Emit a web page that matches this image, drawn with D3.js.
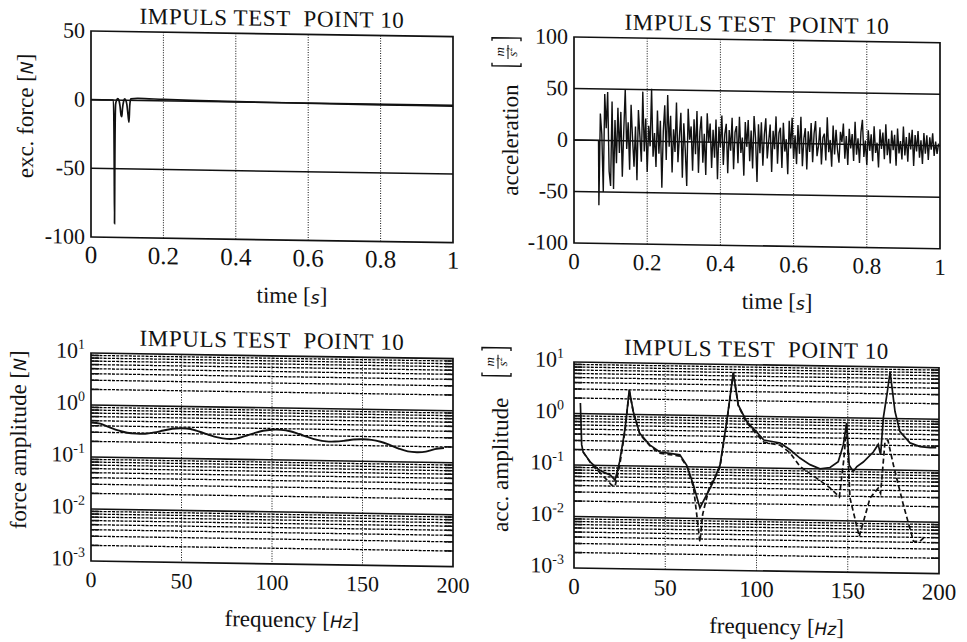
<!DOCTYPE html>
<html>
<head>
<meta charset="utf-8">
<script src="https://cdn.jsdelivr.net/npm/d3@7"></script>
<style>
body { margin: 0; background: #fff; }
</style>
</head>
<body>
<svg id="chart" width="967" height="642"></svg>
<script>
// ---- data ----
var titleText = "IMPULS TEST\u00a0\u00a0POINT 10";

// excitation force (time domain)
var forceTime = [0, 0.062, 0.064, 0.065, 0.066, 0.068, 0.071, 0.074, 0.077, 0.080, 0.083, 0.085,
                 0.087, 0.090, 0.093, 0.096, 0.099, 0.102, 0.105, 0.107, 0.110, 0.130, 0.200, 0.300, 0.500, 0.800, 1.0];
var forceVal  = [0, 0, -40, -90, -40, -3, 0, 1, 0, -4, -11, -12,
                 -6, -1, 1, 0, -3, -10, -16, -4, 1, 1.5, 1, 0.5, 0, -0.5, -0.5];

// acceleration (time domain), sampled every 4 ms starting at 0.068 s
var accStart = 0.068, accStep = 0.004;
var accVal = [
  -63, 26, 6, -50, 45, 12, 47, -30, -44, 38,
  -47, 20, -22, 32, -12, 28, -35, 10, 50, -8,
  18, -28, 35, 2, -25, 14, -38, 30, 5, -20,
  48, -10, 22, -30, 15, -5, 51, -15, 8, -25,
  30, -12, 20, -45, 10, 35, -18, 45, -5, 25,
  -30, 12, -10, 38, -20, 5, 28, -35, 18, -8,
  -43, 32, 2, 15, -28, 22, -12, 30, -30, 10,
  25, -20, 8, -32, 28, 0, 18, -25, 12, -15,
  22, -36, 15, -5, 26, -22, 8, 18, -30, 12,
  -8, 24, -26, 10, 16, -20, 25, -10, 5, -32,
  20, -4, 22, -18, 12, -25, 26, 5, -38, 18,
  -10, 20, -22, 8, 24, -15, 2, 18, -28, 12,
  -6, 26, -20, 10, 15, -24, 20, -8, 4, -30,
  22, -5, 25, -15, 8, -20, 18, -10, 26, -22,
  5, 15, -25, 12, -8, 20, -18, 10, 22, -12,
  -2, 16, -20, 6, 10, -16, 26, -8, 4, -22,
  18, -10, 14, -6, -18, 12, 2, 20, -14, 8,
  -20, 15, -4, 10, -16, 22, -10, 6, -18, 12,
  24, -12, 4, -20, 14, -6, 10, -16, 18, -8,
  2, -22, 15, -4, 12, -14, 20, -10, 6, -18,
  14, -5, 10, -20, 16, -8, 4, -14, 18, -10,
  8, -16, 12, -4, 15, -20, 10, -6, 14, -12,
  5, -18, 12, -8, 10, -14, 8, -4, 12, -10,
  4, -8, 2
];

// force amplitude spectrum
var forceFreq = [0, 5, 10, 15, 20, 25, 30, 35, 40, 45, 50, 55, 60, 65, 70, 75, 80, 85, 90, 95,
                 100, 105, 110, 115, 120, 125, 130, 135, 140, 145, 150, 155, 160, 165, 170, 175, 180, 185, 190, 195];
var forceAmp  = [0.46, 0.44, 0.38, 0.33, 0.30, 0.29, 0.29, 0.31, 0.34, 0.37, 0.38, 0.37, 0.33, 0.29, 0.26, 0.245, 0.25, 0.28, 0.32, 0.36,
                 0.38, 0.38, 0.36, 0.32, 0.28, 0.25, 0.235, 0.235, 0.245, 0.26, 0.265, 0.26, 0.24, 0.21, 0.18, 0.16, 0.155, 0.16, 0.18, 0.19];

// acceleration amplitude spectrum, solid curve
var accFreq = [3.5, 4.2, 5, 9, 14, 20, 22.5, 25, 28, 30.3, 32.5, 36, 41.5, 47, 52.5, 58, 61.7, 65.4, 69, 72.7,
               76.3, 80, 83.7, 87.3, 90, 94.6, 100, 104, 113, 118.4, 123.8, 129.3, 134.8, 140.3, 144.8, 147.6, 149.4, 150.8, 153, 155,
               158.5, 164, 166.7, 168, 169.5, 171.7, 173.2, 175.9, 178.6, 184.1, 189.6, 195, 198.5];
var accAmp  = [1.6, 0.25, 0.18, 0.115, 0.08, 0.065, 0.052, 0.12, 0.53, 3.0, 1.13, 0.43, 0.26, 0.19, 0.18, 0.17, 0.108, 0.045, 0.016, 0.029,
               0.052, 0.11, 0.78, 7.0, 1.65, 0.79, 0.5, 0.35, 0.31, 0.23, 0.16, 0.12, 0.10, 0.107, 0.14, 0.30, 0.8, 0.12, 0.091, 0.114,
               0.14, 0.22, 0.31, 0.195, 1.02, 3.3, 8.0, 1.37, 0.56, 0.34, 0.29, 0.28, 0.28];

// acceleration amplitude spectrum, dashed curve
var accFreqD = [5, 10, 15, 20.6, 22.5, 25, 28, 30.3, 32.5, 36, 41.5, 47, 52.5, 58, 62, 65.5, 69, 70.5, 72, 74.5,
                77, 80, 83.7, 87.3, 90, 94.6, 100, 104, 113, 118.4, 123.8, 132.9, 140.3, 145.4, 147.8, 149.4, 151.2, 156.3, 162.2, 166.7,
                168, 170.4, 172, 175, 180.5, 186, 189.6, 192.3];
var accAmpD  = [0.18, 0.1, 0.068, 0.042, 0.04, 0.1, 0.5, 2.9, 1.1, 0.42, 0.25, 0.18, 0.17, 0.16, 0.1, 0.04, 0.0035, 0.012, 0.02, 0.045,
                0.06, 0.1, 0.75, 6.8, 1.6, 0.75, 0.45, 0.32, 0.28, 0.2, 0.11, 0.066, 0.043, 0.029, 0.15, 0.7, 0.028, 0.005, 0.028, 0.044,
                0.035, 0.35, 0.38, 0.126, 0.021, 0.0042, 0.0042, 0.0052];

var timeTicks = [0, 0.2, 0.4, 0.6, 0.8, 1];
var forceTicks = [50, 0, -50, -100];
var accTicks = [100, 50, 0, -50, -100];
var freqTicks = [0, 50, 100, 150, 200];
var decadeTicks = [10, 1, 0.1, 0.01, 0.001];
var decadeExp = ["1", "0", "-1", "-2", "-3"];

// ---- layout ----
var serif = "'Liberation Serif', 'Times New Roman', serif";
var svg = d3.select("#chart").attr("font-family", serif);
var ink = "#111";
var tilt = 0.9; // the scan is slightly tilted

function txt(sel) {
  return sel.attr("font-family", serif).attr("fill", ink);
}

function makePanel(x0, y0, w, h) {
  var g = svg.append("g")
      .attr("transform", "translate(" + x0 + "," + y0 + ") skewY(" + tilt + ")");
  txt(g.append("text"))
      .attr("x", w / 2).attr("y", -8)
      .attr("text-anchor", "middle")
      .attr("font-size", 23)
      .attr("letter-spacing", 0.6)
      .text(titleText);
  return g;
}

function frame(g, w, h) {
  g.append("rect").attr("width", w).attr("height", h)
      .attr("fill", "none").attr("stroke", ink).attr("stroke-width", 1.7);
}

function xTickLabels(g, x, ticks, h, size) {
  txt(g.selectAll(null).data(ticks).enter().append("text"))
      .attr("x", function(d) { return x(d); })
      .attr("y", h + 26)
      .attr("text-anchor", "middle")
      .attr("font-size", size)
      .text(function(d) { return d; });
}

function xLabel(g, w, h, main, unit) {
  var t = txt(g.append("text")).attr("x", w * 0.555).attr("y", h + 63)
      .attr("text-anchor", "middle").attr("font-size", 23);
  t.append("tspan").text(main + " [");
  t.append("tspan").attr("font-style", "italic").attr("font-size", 17)
      .attr("font-family", "'DejaVu Sans', sans-serif").text(unit);
  t.append("tspan").text("]");
}

function yLabelSimple(g, lx, ly, main, unit) {
  var t = txt(g.append("text"))
      .attr("transform", "translate(" + lx + "," + ly + ") rotate(-90)")
      .attr("text-anchor", "middle").attr("font-size", 23);
  t.append("tspan").text(main + " [");
  t.append("tspan").attr("font-style", "italic").attr("font-size", 17)
      .attr("font-family", "'DejaVu Sans', sans-serif").text(unit);
  t.append("tspan").text("]");
}

function yLabelFraction(g, lx, ly, main, fu) {
  var r = g.append("g").attr("transform", "translate(" + lx + "," + ly + ") rotate(-90)");
  txt(r.append("text")).attr("x", 0).attr("y", 0).attr("text-anchor", "middle")
      .attr("font-size", 23).text(main);
  // fraction m / s^2 inside brackets
  txt(r.append("text")).attr("x", fu).attr("y", -14).attr("text-anchor", "middle")
      .attr("font-size", 13).attr("font-style", "italic").text("m");
  var s = txt(r.append("text")).attr("x", fu).attr("y", -1).attr("text-anchor", "middle")
      .attr("font-size", 13).attr("font-style", "italic");
  s.append("tspan").text("s");
  s.append("tspan").attr("dy", -5).attr("font-size", 8).attr("font-style", "normal").text("2");
  r.append("line").attr("x1", fu - 7).attr("x2", fu + 7).attr("y1", -10).attr("y2", -10)
      .attr("stroke", ink).attr("stroke-width", 1);
  var u1 = fu - 14, u2 = fu + 14, vt = -26, vb = 3;
  r.append("path").attr("fill", "none").attr("stroke", ink).attr("stroke-width", 1.4)
      .attr("d", "M" + (u1 + 3) + "," + vt + "H" + u1 + "V" + vb + "H" + (u1 + 3)
               + "M" + (u2 - 3) + "," + vt + "H" + u2 + "V" + vb + "H" + (u2 - 3));
}

function linearGrid(g, x, y, xt, yt, w, h) {
  g.selectAll(null).data(xt.slice(1, -1)).enter().append("line")
      .attr("x1", function(d) { return x(d); }).attr("x2", function(d) { return x(d); })
      .attr("y1", 0).attr("y2", h)
      .attr("stroke", ink).attr("stroke-width", 1).attr("stroke-dasharray", "1,1.5");
  g.selectAll(null).data(yt.slice(1, -1)).enter().append("line")
      .attr("x1", 0).attr("x2", w)
      .attr("y1", function(d) { return y(d); }).attr("y2", function(d) { return y(d); })
      .attr("stroke", ink).attr("stroke-width", 1.5);
}

function yTickLabels(g, y, ticks) {
  txt(g.selectAll(null).data(ticks).enter().append("text"))
      .attr("x", -6).attr("y", function(d) { return y(d) + 7; })
      .attr("text-anchor", "end")
      .attr("font-size", 22)
      .text(function(d) { return d; });
}

function logGrid(g, x, y, xt, w, h) {
  var minors = [];
  decadeTicks.slice(1).forEach(function(dec) {
    for (var m = 2; m <= 9; m++) minors.push(dec * m);
  });
  g.selectAll(null).data(minors).enter().append("line")
      .attr("x1", 0).attr("x2", w)
      .attr("y1", function(d) { return y(d); }).attr("y2", function(d) { return y(d); })
      .attr("stroke", "#000").attr("stroke-width", 1.3).attr("stroke-dasharray", "3,1.2");
  // minor tick marks on both sides
  g.selectAll(null).data(minors).enter().append("path")
      .attr("d", function(d) { return "M0," + y(d) + "H8M" + w + "," + y(d) + "H" + (w - 8); })
      .attr("stroke", ink).attr("stroke-width", 1.6);
  g.selectAll(null).data(decadeTicks.slice(1, -1)).enter().append("line")
      .attr("x1", 0).attr("x2", w)
      .attr("y1", function(d) { return y(d); }).attr("y2", function(d) { return y(d); })
      .attr("stroke", ink).attr("stroke-width", 1.6);
  g.selectAll(null).data(xt.slice(1, -1)).enter().append("line")
      .attr("x1", function(d) { return x(d); }).attr("x2", function(d) { return x(d); })
      .attr("y1", 0).attr("y2", h)
      .attr("stroke", ink).attr("stroke-width", 1).attr("stroke-dasharray", "1,1.5");
}

function logTickLabels(g, y, lx) {
  var t = txt(g.selectAll(null).data(decadeTicks).enter().append("text"))
      .attr("x", lx).attr("y", function(d) { return y(d) + 5; })
      .attr("text-anchor", "end")
      .attr("font-size", 22);
  t.append("tspan").text("10");
  t.append("tspan").attr("dy", -9).attr("font-size", 14)
      .text(function(d, i) { return decadeExp[i]; });
}

// ---- panel 1: excitation force ----
(function() {
  var w = 362, h = 206;
  var g = makePanel(91, 31, w, h);
  var x = d3.scaleLinear().domain([0, 1]).range([0, w]);
  var y = d3.scaleLinear().domain([-100, 50]).range([h, 0]);
  linearGrid(g, x, y, timeTicks, forceTicks, w, h);
  var pts = forceTime.map(function(t, i) { return [t, forceVal[i]]; });
  g.append("path").datum(pts)
      .attr("fill", "none").attr("stroke", ink).attr("stroke-width", 1.7)
      .attr("d", d3.line().x(function(d) { return x(d[0]); }).y(function(d) { return y(d[1]); })
        .curve(d3.curveMonotoneX));
  frame(g, w, h);
  yTickLabels(g, y, forceTicks);
  xTickLabels(g, x, timeTicks, h, 25);
  xLabel(g, w, h, "time", "s");
  yLabelSimple(g, -58, 86, "exc. force", "N");
})();

// ---- panel 2: acceleration ----
(function() {
  var w = 366, h = 206;
  var g = makePanel(574, 37, w, h);
  var x = d3.scaleLinear().domain([0, 1]).range([0, w]);
  var y = d3.scaleLinear().domain([-100, 100]).range([h, 0]);
  linearGrid(g, x, y, timeTicks, accTicks, w, h);
  var pts = [[0, 0], [accStart - 0.001, 0]].concat(accVal.map(function(v, i) {
    return [accStart + i * accStep, v];
  }));
  g.append("path").datum(pts)
      .attr("fill", "none").attr("stroke", ink).attr("stroke-width", 1.4)
      .attr("d", d3.line().x(function(d) { return x(d[0]); }).y(function(d) { return y(d[1]); }));
  frame(g, w, h);
  yTickLabels(g, y, accTicks);
  xTickLabels(g, x, timeTicks, h, 23);
  xLabel(g, w, h, "time", "s");
  yLabelFraction(g, -56, 104, "acceleration", 88);
})();

// ---- panel 3: force amplitude ----
(function() {
  var w = 362, h = 208;
  var g = makePanel(91, 353, w, h);
  var x = d3.scaleLinear().domain([0, 200]).range([0, w]);
  var y = d3.scaleLog().domain([0.001, 10]).range([h, 0]);
  logGrid(g, x, y, freqTicks, w, h);
  var pts = forceFreq.map(function(f, i) { return [f, forceAmp[i]]; });
  g.append("path").datum(pts)
      .attr("fill", "none").attr("stroke", ink).attr("stroke-width", 1.9)
      .attr("d", d3.line().x(function(d) { return x(d[0]); }).y(function(d) { return y(d[1]); })
        .curve(d3.curveCatmullRom));
  frame(g, w, h);
  logTickLabels(g, y, -6);
  xTickLabels(g, x, freqTicks, h, 22);
  xLabel(g, w, h, "frequency", "Hz");
  yLabelSimple(g, -65, 88, "force amplitude", "N");
})();

// ---- panel 4: acceleration amplitude ----
(function() {
  var w = 365, h = 206;
  var g = makePanel(574, 362, w, h);
  var x = d3.scaleLinear().domain([0, 200]).range([0, w]);
  var y = d3.scaleLog().domain([0.001, 10]).range([h, 0]);
  logGrid(g, x, y, freqTicks, w, h);
  var line = d3.line().x(function(d) { return x(d[0]); }).y(function(d) { return y(d[1]); });
  g.append("path").datum(accFreqD.map(function(f, i) { return [f, accAmpD[i]]; }))
      .attr("fill", "none").attr("stroke", ink).attr("stroke-width", 1.7)
      .attr("stroke-dasharray", "5,3").attr("d", line);
  g.append("path").datum(accFreq.map(function(f, i) { return [f, accAmp[i]]; }))
      .attr("fill", "none").attr("stroke", ink).attr("stroke-width", 1.7).attr("d", line);
  frame(g, w, h);
  logTickLabels(g, y, -10);
  xTickLabels(g, x, freqTicks, h, 23);
  xLabel(g, w, h, "frequency", "Hz");
  yLabelFraction(g, -66, 104, "acc. amplitude", 103);
})();
</script>
</body>
</html>
